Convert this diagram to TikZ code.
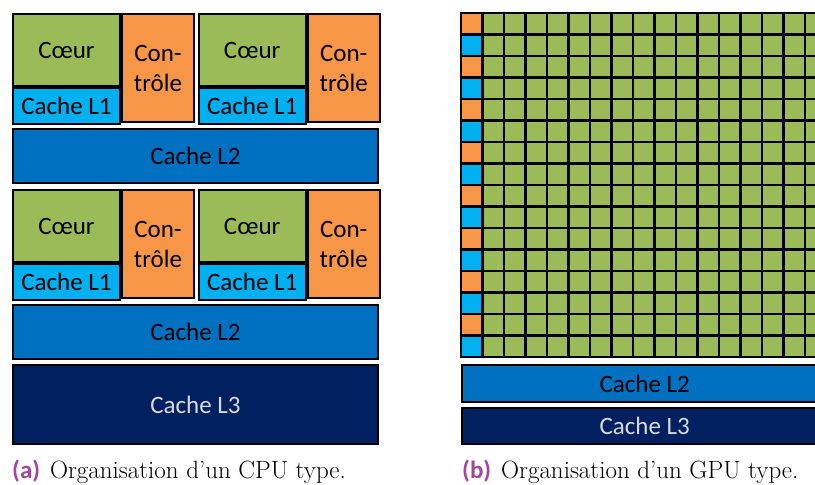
\documentclass[tikz,border=0pt]{standalone}
\usepackage{fontspec}
\newfontfamily\boxfont{Carlito}

\definecolor{coeurgreen}{RGB}{155,187,89}
\definecolor{ctrlorange}{RGB}{247,150,70}
\definecolor{lonecyan}{RGB}{0,176,240}
\definecolor{ltwoblue}{RGB}{0,112,192}
\definecolor{lthreenavy}{RGB}{0,32,96}
\definecolor{lthreetext}{RGB}{217,217,217}
\definecolor{capmagenta}{RGB}{163,71,157}

\tikzset{
  blk/.style={draw=black, line width=2pt, inner sep=0pt, anchor=north west,
    align=center, font=\boxfont\fontsize{25}{30}\selectfont},
  cell/.style={draw=black, line width=2.2pt},
  caption/.style={anchor=base west, inner sep=0pt, font=\fontsize{25}{29}\selectfont}
}

\begin{document}
\begin{tikzpicture}[x=1pt, y=-1pt]
\useasboundingbox (0,0) rectangle (815,485);
\clip (0,0) rectangle (815,485);

% CPU : quatre coeurs
\foreach \r/\y in {1/13, 2/189}{
  \foreach \c/\x in {1/12, 2/197.7}{
    \node[blk, fill=coeurgreen, minimum width=107pt, minimum height=72pt] (coeur\r\c) at (\x,\y) {Cœur};
    \node[blk, fill=lonecyan, minimum width=107pt, minimum height=36pt] (lone\r\c) at (coeur\r\c.south west) {Cache L1};
    \node[blk, fill=ctrlorange, minimum width=72pt, minimum height=108pt] (ctrl\r\c) at (coeur\r\c.north east) {Con-\\trôle};
  }
}
\node[blk, fill=ltwoblue, minimum width=365pt, minimum height=54pt] (cpultwoa) at (12,128) {Cache L2};
\node[blk, fill=ltwoblue, minimum width=365pt, minimum height=54pt] (cpultwob) at (12,303.5) {Cache L2};
\node[blk, fill=lthreenavy, text=lthreetext, minimum width=365pt, minimum height=79pt] (cpulthree) at (12,364) {Cache L3};

% GPU : grille
\foreach \i in {0,2,...,14}
  \filldraw[cell, fill=ctrlorange] (461,{13+21.5*\i}) rectangle ++(21.5,21.5);
\foreach \i in {1,3,...,15}
  \filldraw[cell, fill=lonecyan] (461,{13+21.5*\i}) rectangle ++(21.5,21.5);
\foreach \i in {0,...,15}
  \foreach \j in {1,...,16}
    \filldraw[cell, fill=coeurgreen] ({461+21.5*\j},{13+21.5*\i}) rectangle ++(21.5,21.5);

\node[blk, fill=ltwoblue, minimum width=365.5pt, minimum height=37pt] (gpultwo) at (461,364) {Cache L2};
\node[blk, fill=lthreenavy, text=lthreetext, minimum width=365.5pt, minimum height=36pt] (gpulthree) at (461,407) {Cache L3};

% legendes
\node[caption] (capa) at (12,478) {{\boxfont\bfseries\color{capmagenta}(a)}\hspace{10pt}Organisation d’un CPU type.};
\node[caption] (capb) at (462,478) {{\boxfont\bfseries\color{capmagenta}(b)}\hspace{10pt}Organisation d’un GPU type.};

\end{tikzpicture}
\end{document}
